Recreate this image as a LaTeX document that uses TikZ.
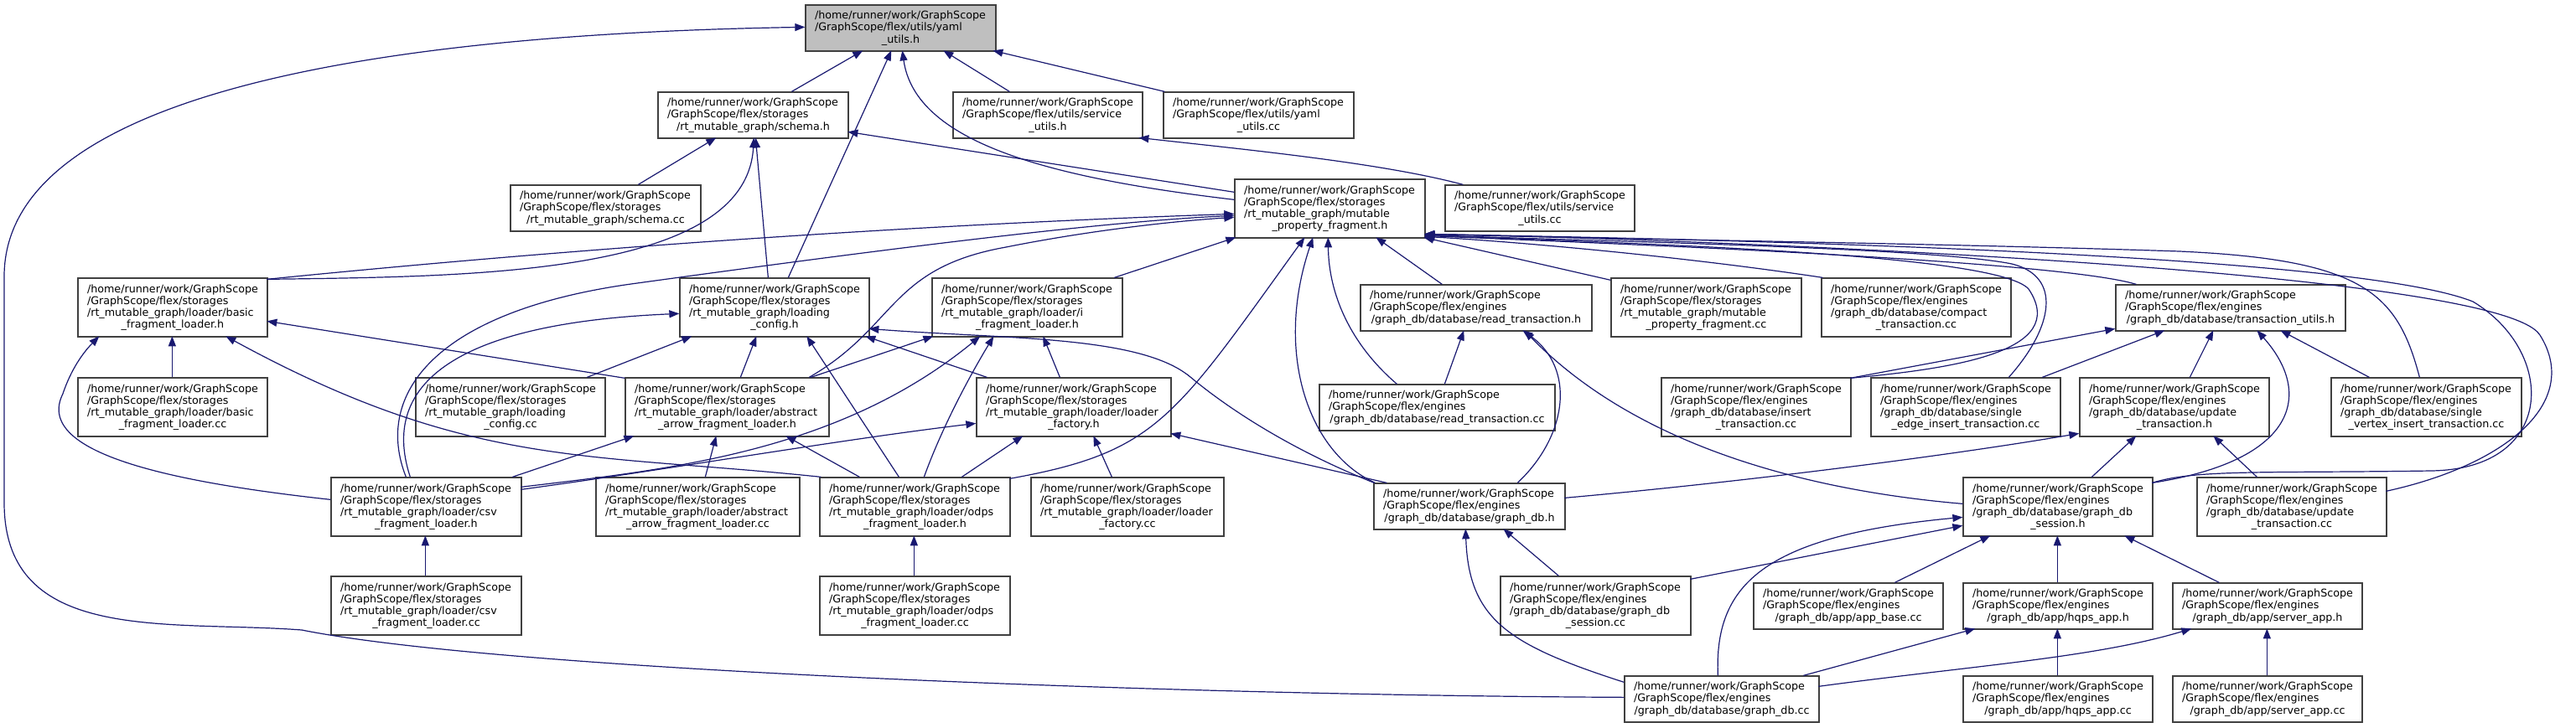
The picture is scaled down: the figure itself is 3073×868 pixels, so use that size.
\documentclass[tikz,border=0pt]{standalone}
\usepackage{fontspec}
\setmainfont{DejaVu Sans}
\usetikzlibrary{arrows.meta}
\definecolor{edgeblue}{RGB}{25,25,112}
\definecolor{boxline}{RGB}{64,64,64}
\definecolor{rootfill}{RGB}{191,191,191}
\newcommand\nfont{\fontsize{12.7}{14.2}\selectfont}
\newcommand\Ll[1]{\mbox{#1}}
\newcommand\Lc[1]{\makebox[\linewidth][c]{#1}}
\newcommand\Hm{\Ll{/home/runner/work/GraphScope}}
\newcommand\Sto{\Ll{/GraphScope/flex/storages}}
\newcommand\Eng{\Ll{/GraphScope/flex/engines}}
\newcommand\nd[7][]{%
 \pgfmathsetmacro\ndw{#5-#3}%
 \pgfmathsetmacro\ndh{#6-#4}%
 \pgfmathsetmacro\ndt{#5-#3-22}%
 \pgfmathsetmacro\ndx{(#3+#5)/2}%
 \pgfmathsetmacro\ndy{(#4+#6)/2}%
 \node[nbox,#1,minimum width=\ndw pt,minimum height=\ndh pt,text width=\ndt pt] (#2) at (\ndx,\ndy) {#7};}
\begin{document}
\begin{tikzpicture}[x=1pt,y=-1pt,
  nbox/.style={draw=boxline,line width=1.3pt,fill=white,inner sep=0pt,font=\nfont,align=left},
  edge/.style={draw=edgeblue,line width=1.2pt,-{Triangle[length=12pt,width=9pt]}}]
\useasboundingbox (0,0) rectangle (3073,868);
% nodes
\nd[fill=rootfill]{Y}{961}{6}{1188}{61}{\Hm\\\Ll{/GraphScope/flex/utils/yaml}\\\Lc{\_utils.h}}
\nd{SCH}{785}{110}{1012}{165}{\Hm\\\Sto\\\Lc{/rt\_mutable\_graph/schema.h}}
\nd{SU}{1137}{110}{1363}{165}{\Hm\\\Ll{/GraphScope/flex/utils/service}\\\Lc{\_utils.h}}
\nd{YCC}{1388}{110}{1615}{165}{\Hm\\\Ll{/GraphScope/flex/utils/yaml}\\\Lc{\_utils.cc}}
\nd{SCC}{609}{221}{836}{276}{\Hm\\\Sto\\\Lc{/rt\_mutable\_graph/schema.cc}}
\nd{MPF}{1473}{214}{1700}{284}{\Hm\\\Sto\\\Ll{/rt\_mutable\_graph/mutable}\\\Lc{\_property\_fragment.h}}
\nd{SUCC}{1724}{221}{1950}{276}{\Hm\\\Ll{/GraphScope/flex/utils/service}\\\Lc{\_utils.cc}}
\nd{BFL}{93}{332}{319}{402}{\Hm\\\Sto\\\Ll{/rt\_mutable\_graph/loader/basic}\\\Lc{\_fragment\_loader.h}}
\nd{LC}{811}{332}{1037}{402}{\Hm\\\Sto\\\Ll{/rt\_mutable\_graph/loading}\\\Lc{\_config.h}}
\nd{IFL}{1112}{332}{1339}{402}{\Hm\\\Sto\\\Ll{/rt\_mutable\_graph/loader/i}\\\Lc{\_fragment\_loader.h}}
\nd{RT}{1623}{340}{1899}{395}{\Hm\\\Eng\\\Lc{/graph\_db/database/read\_transaction.h}}
\nd{MPFCC}{1922}{332}{2149}{402}{\Hm\\\Sto\\\Ll{/rt\_mutable\_graph/mutable}\\\Lc{\_property\_fragment.cc}}
\nd{CT}{2173}{332}{2399}{402}{\Hm\\\Eng\\\Ll{/graph\_db/database/compact}\\\Lc{\_transaction.cc}}
\nd{TU}{2524}{340}{2798}{395}{\Hm\\\Eng\\\Lc{/graph\_db/database/transaction\_utils.h}}
\nd{BFLCC}{93}{451}{319}{521}{\Hm\\\Sto\\\Ll{/rt\_mutable\_graph/loader/basic}\\\Lc{\_fragment\_loader.cc}}
\nd{LCCC}{496}{451}{722}{521}{\Hm\\\Sto\\\Ll{/rt\_mutable\_graph/loading}\\\Lc{\_config.cc}}
\nd{AAFL}{746}{451}{989}{521}{\Hm\\\Sto\\\Ll{/rt\_mutable\_graph/loader/abstract}\\\Lc{\_arrow\_fragment\_loader.h}}
\nd{LF}{1165}{451}{1397}{521}{\Hm\\\Sto\\\Ll{/rt\_mutable\_graph/loader/loader}\\\Lc{\_factory.h}}
\nd{RTCC}{1574}{459}{1855}{514}{\Hm\\\Eng\\\Lc{/graph\_db/database/read\_transaction.cc}}
\nd{ITCC}{1982}{451}{2208}{521}{\Hm\\\Eng\\\Ll{/graph\_db/database/insert}\\\Lc{\_transaction.cc}}
\nd{SEIT}{2232}{451}{2458}{521}{\Hm\\\Eng\\\Ll{/graph\_db/database/single}\\\Lc{\_edge\_insert\_transaction.cc}}
\nd{UT}{2481}{451}{2707}{521}{\Hm\\\Eng\\\Ll{/graph\_db/database/update}\\\Lc{\_transaction.h}}
\nd{SVIT}{2781}{451}{3008}{521}{\Hm\\\Eng\\\Ll{/graph\_db/database/single}\\\Lc{\_vertex\_insert\_transaction.cc}}
\nd{CSV}{395}{570}{622}{640}{\Hm\\\Sto\\\Ll{/rt\_mutable\_graph/loader/csv}\\\Lc{\_fragment\_loader.h}}
\nd{AAFLCC}{711}{570}{954}{640}{\Hm\\\Sto\\\Ll{/rt\_mutable\_graph/loader/abstract}\\\Lc{\_arrow\_fragment\_loader.cc}}
\nd{ODPS}{978}{570}{1205}{640}{\Hm\\\Sto\\\Ll{/rt\_mutable\_graph/loader/odps}\\\Lc{\_fragment\_loader.h}}
\nd{LFCC}{1230}{570}{1460}{640}{\Hm\\\Sto\\\Ll{/rt\_mutable\_graph/loader/loader}\\\Lc{\_factory.cc}}
\nd{GDB}{1639}{577}{1867}{632}{\Hm\\\Eng\\\Lc{/graph\_db/database/graph\_db.h}}
\nd{GDBS}{2342}{570}{2568}{640}{\Hm\\\Eng\\\Ll{/graph\_db/database/graph\_db}\\\Lc{\_session.h}}
\nd{UTCC}{2621}{570}{2847}{640}{\Hm\\\Eng\\\Ll{/graph\_db/database/update}\\\Lc{\_transaction.cc}}
\nd{CSVCC}{395}{688}{622}{758}{\Hm\\\Sto\\\Ll{/rt\_mutable\_graph/loader/csv}\\\Lc{\_fragment\_loader.cc}}
\nd{ODPSCC}{978}{688}{1205}{758}{\Hm\\\Sto\\\Ll{/rt\_mutable\_graph/loader/odps}\\\Lc{\_fragment\_loader.cc}}
\nd{GDBSCC}{1790}{688}{2017}{758}{\Hm\\\Eng\\\Ll{/graph\_db/database/graph\_db}\\\Lc{\_session.cc}}
\nd{ABCC}{2092}{696}{2318}{751}{\Hm\\\Eng\\\Lc{/graph\_db/app/app\_base.cc}}
\nd{HQ}{2342}{696}{2568}{751}{\Hm\\\Eng\\\Lc{/graph\_db/app/hqps\_app.h}}
\nd{SA}{2592}{696}{2818}{751}{\Hm\\\Eng\\\Lc{/graph\_db/app/server\_app.h}}
\nd{GDBCC}{1938}{807}{2170}{862}{\Hm\\\Eng\\\Lc{/graph\_db/database/graph\_db.cc}}
\nd{HQCC}{2342}{807}{2568}{862}{\Hm\\\Eng\\\Lc{/graph\_db/app/hqps\_app.cc}}
\nd{SACC}{2592}{807}{2818}{862}{\Hm\\\Eng\\\Lc{/graph\_db/app/server\_app.cc}}
% edges into yaml_utils.h
\draw[edge] ([shift={(160,0)}]SCH.north west) -- ([shift={(69,55)}]Y.north west);
\draw[edge] ([shift={(130,0)}]LC.north west) -- ([shift={(103,55)}]Y.north west);
\draw[edge] ([shift={(0,25)}]MPF.north west) .. controls (1250,212) and (1092,170) .. ([shift={(116,55)}]Y.north west);
\draw[edge] ([shift={(68,0)}]SU.north west) -- ([shift={(165,55)}]Y.north west);
\draw[edge] ([shift={(2,0)}]YCC.north west) -- ([shift={(224,55)}]Y.north west);
\draw[edge] ([shift={(0,26)}]GDBCC.north west) .. controls (1400,830) and (600,800) .. (360,752) .. controls (200,740) and (5,770) .. (5,600) -- (5,330) .. controls (5,100) and (500,40) .. ([shift={(0,27)}]Y.north west);
% into schema.h
\draw[edge] ([shift={(153,0)}]SCC.north west) -- ([shift={(70,55)}]SCH.north west);
\draw[edge] ([shift={(226,2)}]BFL.north west) .. controls (560,330) and (890,330) .. ([shift={(115,55)}]SCH.north west);
\draw[edge] ([shift={(106,0)}]LC.north west) -- ([shift={(117,55)}]SCH.north west);
\draw[edge] ([shift={(0,16)}]MPF.north west) -- ([shift={(227,48)}]SCH.north west);
% into service_utils.h
\draw[edge] ([shift={(22,0)}]SUCC.north west) .. controls (1650,195) and (1500,180) .. ([shift={(222,55)}]SU.north west);
% into mutable_property_fragment.h
\draw[edge] ([shift={(226,2)}]BFL.north west) .. controls (700,295) and (1100,268) .. ([shift={(0,42)}]MPF.north west);
\draw[edge] ([shift={(90,0)}]CSV.north west) .. controls (445,470) and (520,370) .. (760,338) .. controls (1000,305) and (1300,265) .. ([shift={(0,44)}]MPF.north west);
\draw[edge] ([shift={(220,0)}]AAFL.north west) .. controls (1070,390) and (1060,320) .. (1200,295) .. controls (1300,275) and (1400,264) .. ([shift={(0,46)}]MPF.north west);
\draw[edge] ([shift={(218,0)}]IFL.north west) -- ([shift={(2,70)}]MPF.north west);
\draw[edge] ([shift={(227,2)}]ODPS.north west) .. controls (1380,540) and (1400,500) .. ([shift={(84,70)}]MPF.north west);
\draw[edge] ([shift={(2,0)}]GDB.north west) .. controls (1560,540) and (1520,420) .. ([shift={(94,70)}]MPF.north west);
\draw[edge] ([shift={(93,0)}]RTCC.north west) .. controls (1610,410) and (1585,350) .. ([shift={(112,70)}]MPF.north west);
\draw[edge] ([shift={(98,0)}]RT.north west) -- ([shift={(169,70)}]MPF.north west);
\draw[edge] ([shift={(0,3)}]MPFCC.north west) -- ([shift={(226,70)}]MPF.north west);
\draw[edge] ([shift={(2,0)}]CT.north west) .. controls (2000,305) and (1800,288) .. ([shift={(227,69)}]MPF.north west);
\draw[edge] ([shift={(25,0)}]TU.north west) .. controls (2450,310) and (1900,290) .. ([shift={(227,68)}]MPF.north west);
\draw[edge] ([shift={(226,1)}]ITCC.north west) .. controls (2330,440) and (2470,420) .. (2420,345) .. controls (2380,300) and (1900,290) .. ([shift={(227,67)}]MPF.north west);
\draw[edge] ([shift={(165,0)}]SEIT.north west) .. controls (2450,390) and (2460,330) .. (2400,315) .. controls (2300,295) and (1900,288) .. ([shift={(227,67)}]MPF.north west);
\draw[edge] ([shift={(106,0)}]SVIT.north west) .. controls (2860,350) and (2820,310) .. (2600,300) .. controls (2300,290) and (1900,285) .. ([shift={(227,66)}]MPF.north west);
\draw[edge] ([shift={(226,7)}]GDBS.north west) .. controls (2620,560) and (2700,565) .. (2900,562) .. controls (3050,560) and (3050,420) .. (2950,360) .. controls (2800,300) and (2000,285) .. ([shift={(227,66)}]MPF.north west);
\draw[edge] ([shift={(226,17)}]UTCC.north west) .. controls (2990,555) and (3080,480) .. (3030,400) .. controls (2980,320) and (2000,285) .. ([shift={(227,66)}]MPF.north west);
% into loading_config.h
\draw[edge] ([shift={(95,0)}]CSV.north west) .. controls (450,450) and (560,385) .. ([shift={(0,43)}]LC.north west);
\draw[edge] ([shift={(205,0)}]LCCC.north west) -- ([shift={(15,70)}]LC.north west);
\draw[edge] ([shift={(138,0)}]AAFL.north west) -- ([shift={(92,70)}]LC.north west);
\draw[edge] ([shift={(95,0)}]ODPS.north west) -- ([shift={(152,70)}]LC.north west);
\draw[edge] ([shift={(13,0)}]LF.north west) -- ([shift={(222,70)}]LC.north west);
\draw[edge] ([shift={(1,0)}]GDB.north west) .. controls (1560,545) and (1480,500) .. (1420,450) .. controls (1360,400) and (1200,405) .. ([shift={(226,61)}]LC.north west);
% into basic_fragment_loader.h
\draw[edge] ([shift={(113,0)}]BFLCC.north west) -- ([shift={(113,70)}]BFL.north west);
\draw[edge] ([shift={(0,27)}]CSV.north west) .. controls (200,575) and (40,540) .. (75,470) .. controls (85,440) and (100,420) .. ([shift={(26,70)}]BFL.north west);
\draw[edge] ([shift={(2,0)}]ODPS.north west) .. controls (700,540) and (560,560) .. ([shift={(177,70)}]BFL.north west);
\draw[edge] ([shift={(0,1)}]AAFL.north west) -- ([shift={(226,52)}]BFL.north west);
% into i_fragment_loader.h
\draw[edge] ([shift={(222,0)}]AAFL.north west) -- ([shift={(2,70)}]IFL.north west);
\draw[edge] ([shift={(227,12)}]CSV.north west) .. controls (800,560) and (1000,540) .. ([shift={(58,70)}]IFL.north west);
\draw[edge] ([shift={(125,0)}]ODPS.north west) .. controls (1120,520) and (1150,460) .. ([shift={(74,70)}]IFL.north west);
\draw[edge] ([shift={(100,0)}]LF.north west) -- ([shift={(133,70)}]IFL.north west);
% into abstract_arrow_fragment_loader.h
\draw[edge] ([shift={(217,0)}]CSV.north west) -- ([shift={(11,70)}]AAFL.north west);
\draw[edge] ([shift={(131,0)}]AAFLCC.north west) -- ([shift={(109,70)}]AAFL.north west);
\draw[edge] ([shift={(48,0)}]ODPS.north west) -- ([shift={(192,70)}]AAFL.north west);
% into loader_factory.h
\draw[edge] ([shift={(227,15)}]CSV.north west) .. controls (800,560) and (1000,525) .. ([shift={(0,55)}]LF.north west);
\draw[edge] ([shift={(170,0)}]ODPS.north west) -- ([shift={(56,70)}]LF.north west);
\draw[edge] ([shift={(97,0)}]LFCC.north west) -- ([shift={(140,70)}]LF.north west);
\draw[edge] ([shift={(16,0)}]GDB.north west) -- ([shift={(232,67)}]LF.north west);
% csv / odps
\draw[edge] ([shift={(113,0)}]CSVCC.north west) -- ([shift={(113,70)}]CSV.north west);
\draw[edge] ([shift={(113,0)}]ODPSCC.north west) -- ([shift={(113,70)}]ODPS.north west);
% into read_transaction.h
\draw[edge] ([shift={(150,0)}]RTCC.north west) -- ([shift={(124,55)}]RT.north west);
\draw[edge] ([shift={(172,0)}]GDB.north west) .. controls (1870,520) and (1880,440) .. ([shift={(194,55)}]RT.north west);
\draw[edge] ([shift={(0,32)}]GDBS.north west) .. controls (2150,585) and (1950,530) .. ([shift={(196,55)}]RT.north west);
% into transaction_utils.h
\draw[edge] ([shift={(226,1)}]ITCC.north west) -- ([shift={(0,53)}]TU.north west);
\draw[edge] ([shift={(205,0)}]SEIT.north west) -- ([shift={(59,55)}]TU.north west);
\draw[edge] ([shift={(132,0)}]UT.north west) -- ([shift={(117,55)}]TU.north west);
\draw[edge] ([shift={(226,7)}]GDBS.north west) .. controls (2740,550) and (2760,470) .. ([shift={(169,55)}]TU.north west);
\draw[edge] ([shift={(46,0)}]SVIT.north west) -- ([shift={(197,55)}]TU.north west);
% into update_transaction.h
\draw[edge] ([shift={(228,18)}]GDB.north west) .. controls (2050,578) and (2300,548) .. ([shift={(0,67)}]UT.north west);
\draw[edge] ([shift={(154,0)}]GDBS.north west) -- ([shift={(68,70)}]UT.north west);
\draw[edge] ([shift={(72,0)}]UTCC.north west) -- ([shift={(160,70)}]UT.north west);
% into graph_db_session.h
\draw[edge] ([shift={(112,0)}]GDBCC.north west) .. controls (2045,700) and (2100,640) .. ([shift={(0,48)}]GDBS.north west);
\draw[edge] ([shift={(227,4)}]GDBSCC.north west) -- ([shift={(0,58)}]GDBS.north west);
\draw[edge] ([shift={(169,0)}]ABCC.north west) -- ([shift={(33,70)}]GDBS.north west);
\draw[edge] ([shift={(113,0)}]HQ.north west) -- ([shift={(113,70)}]GDBS.north west);
\draw[edge] ([shift={(56,0)}]SA.north west) -- ([shift={(193,70)}]GDBS.north west);
% into graph_db.h
\draw[edge] ([shift={(0,8)}]GDBCC.north west) .. controls (1800,770) and (1752,740) .. ([shift={(110,55)}]GDB.north west);
\draw[edge] ([shift={(70,0)}]GDBSCC.north west) -- ([shift={(155,55)}]GDB.north west);
% apps
\draw[edge] ([shift={(113,0)}]HQCC.north west) -- ([shift={(113,55)}]HQ.north west);
\draw[edge] ([shift={(214,0)}]GDBCC.north west) -- ([shift={(15,55)}]HQ.north west);
\draw[edge] ([shift={(113,0)}]SACC.north west) -- ([shift={(113,55)}]SA.north west);
\draw[edge] ([shift={(232,13)}]GDBCC.north west) .. controls (2350,795) and (2500,785) .. ([shift={(23,55)}]SA.north west);
\end{tikzpicture}
\end{document}
